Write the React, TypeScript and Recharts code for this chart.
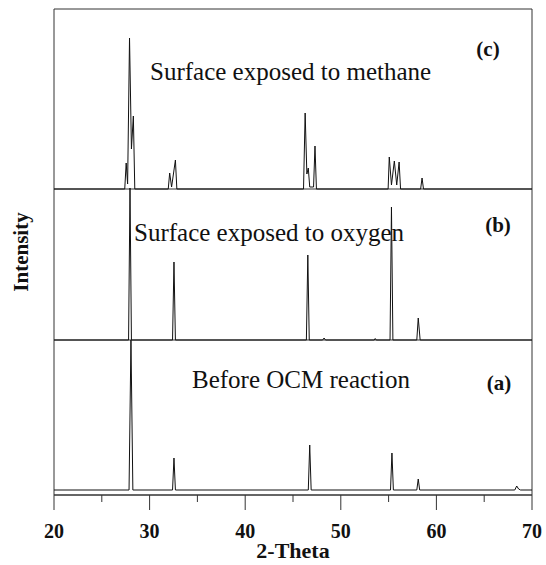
import {
  LineChart,
  Line,
  XAxis,
  YAxis,
  ReferenceLine,
  ReferenceArea,
} from "recharts";

// 2-theta positions and intensities
const thetaA = [20, 27.85, 28.05, 28.25, 32.4, 32.55, 32.7, 46.6, 46.75, 46.9, 55.2, 55.35, 55.5, 57.95, 58.1, 58.25, 68.2, 68.4, 68.6, 68.8, 70];
const intensityA = [0, 0, 150, 0, 0, 32, 0, 0, 45, 0, 0, 37, 0, 0, 11, 0, 0, 4, 1, 0, 0];

const thetaB = [20, 27.8, 27.95, 28.1, 32.4, 32.55, 32.7, 46.4, 46.55, 46.7, 48.1, 48.25, 48.4, 53.5, 53.6, 53.7, 55.15, 55.3, 55.45, 57.95, 58.1, 58.3, 70];
const intensityB = [0, 0, 152, 0, 0, 78, 0, 0, 85, 0, 0, 2, 0, 0, 1.5, 0, 0, 133, 0, 0, 22, 0, 0];

const thetaC = [20, 27.4, 27.55, 27.7, 27.9, 28.1, 28.3, 28.45, 31.95, 32.1, 32.3, 32.7, 32.85, 46.1, 46.27, 46.45, 46.6, 46.75, 47.15, 47.3, 47.45, 54.95, 55.07, 55.3, 55.6, 55.85, 56.1, 56.25, 58.35, 58.5, 58.65, 70];
const intensityC = [0, 0, 26, 5, 151, 40, 73, 0, 0, 16, 2, 29, 0, 0, 76, 15, 21, 2, 2, 43, 0, 0, 32, 4, 28, 4, 27, 0, 0, 11, 0, 0];

// vertical stacking of the patterns
const OFFSET_A = 5;
const OFFSET_B = 155;
const OFFSET_C = 306;
const Y_MAX = 486;

const xTicks = [20, 25, 30, 35, 40, 45, 50, 55, 60, 65, 70];

const FONT = "Liberation Serif, Times New Roman, serif";
const INK = "#111";

function toRows(theta: number[], intensity: number[], offset: number) {
  return theta.map((t, i) => ({ theta: t, y: intensity[i] + offset }));
}

const rowsA = toRows(thetaA, intensityA, OFFSET_A);
const rowsB = toRows(thetaB, intensityB, OFFSET_B);
const rowsC = toRows(thetaC, intensityC, OFFSET_C);

const serif = { fontFamily: FONT };
const serifBold = { fontFamily: FONT, fontWeight: 700 };

function AxisTick(props: any) {
  const { x, y, payload } = props;
  const major = payload.value % 10 === 0;
  return (
    <g>
      <line x1={x} y1={y} x2={x} y2={y + (major ? 15 : 7)} stroke="#333" />
      {major && (
        <text
          x={x}
          y={y + 43}
          textAnchor="middle"
          style={serifBold}
          fontSize={20}
          fill={INK}
        >
          {payload.value}
        </text>
      )}
    </g>
  );
}

export default function App() {
  return (
    <div style={{ position: "absolute", left: 0, top: 0, background: "#fff" }}>
      <LineChart
        width={546}
        height={565}
        margin={{ top: 9, right: 14, left: 54, bottom: 0 }}
      >
        <XAxis
          type="number"
          dataKey="theta"
          domain={[20, 70]}
          ticks={xTicks}
          allowDataOverflow
          height={70}
          tickLine={false}
          tickSize={0}
          tickMargin={0}
          axisLine={{ stroke: "#333" }}
          tick={<AxisTick />}
        />
        <YAxis hide type="number" domain={[0, Y_MAX]} allowDataOverflow />

        <ReferenceArea
          x1={20}
          x2={70}
          y1={0}
          y2={Y_MAX}
          fill="none"
          stroke="#333"
          strokeWidth={1}
        />
        <ReferenceLine y={OFFSET_B} stroke="#333" />
        <ReferenceLine y={OFFSET_C} stroke="#333" />

        <Line
          data={rowsA}
          dataKey="y"
          stroke={INK}
          strokeWidth={1}
          dot={false}
          isAnimationActive={false}
        />
        <Line
          data={rowsB}
          dataKey="y"
          stroke={INK}
          strokeWidth={1}
          dot={false}
          isAnimationActive={false}
        />
        <Line
          data={rowsC}
          dataKey="y"
          stroke={INK}
          strokeWidth={1}
          dot={false}
          isAnimationActive={false}
        />

        <text x={150} y={80} style={serif} fontSize={25} fill={INK}>
          Surface exposed to methane
        </text>
        <text x={488} y={56} textAnchor="middle" style={serifBold} fontSize={21} fill={INK}>
          (c)
        </text>
        <text x={134} y={241} style={serif} fontSize={25} fill={INK}>
          Surface exposed to oxygen
        </text>
        <text x={498} y={232} textAnchor="middle" style={serifBold} fontSize={21} fill={INK}>
          (b)
        </text>
        <text x={192} y={388} style={serif} fontSize={25} fill={INK}>
          Before OCM reaction
        </text>
        <text x={499} y={390} textAnchor="middle" style={serifBold} fontSize={21} fill={INK}>
          (a)
        </text>

        <text
          x={293}
          y={558}
          textAnchor="middle"
          style={serifBold}
          fontSize={22}
          fill={INK}
        >
          2-Theta
        </text>
        <text
          x={28}
          y={252}
          transform="rotate(-90 28 252)"
          textAnchor="middle"
          style={serifBold}
          fontSize={21}
          fill={INK}
        >
          Intensity
        </text>
      </LineChart>
    </div>
  );
}
